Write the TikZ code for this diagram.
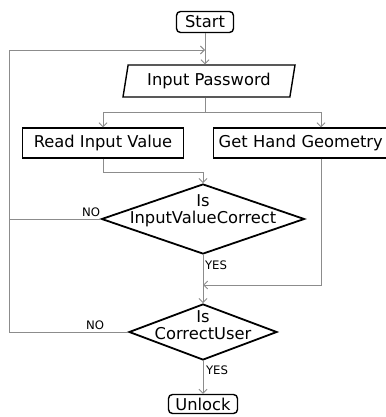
\documentclass[tikz,border=0pt]{standalone}
\usepackage{fontspec}
\setmainfont{DejaVu Sans}
\usetikzlibrary{shapes.geometric,arrows.meta}
\definecolor{wire}{RGB}{140,140,140}
\begin{document}
\begin{tikzpicture}[x=1pt,y=-1pt,
  font=\fontsize{16.3}{16.8}\selectfont,
  box/.style={draw=black,line width=1.4pt,rectangle,inner sep=0pt},
  term/.style={box,rounded corners=4pt},
  dec/.style={draw=black,line width=1.8pt,diamond,inner sep=0pt},
  dtext/.style={align=center,inner sep=0pt},
  io/.style={draw=black,line width=1.4pt,trapezium,trapezium left angle=72,
    trapezium right angle=108,trapezium stretches body,inner sep=0pt},
  wire/.style={draw=wire,line width=0.9pt},
  flow/.style={wire,-{Straight Barb[length=4pt,width=8pt]}},
  tag/.style={font=\fontsize{11.7}{12}\selectfont,inner sep=0pt}]

\useasboundingbox (0,0) rectangle (385,417);

% process steps
\node[term,minimum width=57,minimum height=21] (start) at (205,22) {Start};
\node[io,minimum width=172,minimum height=32] (input) at (209,81) {Input Password};
\node[box,minimum width=161,minimum height=30] (read) at (103,143) {Read Input Value};
\node[box,anchor=west,minimum height=30,text width=180,inner xsep=5,align=left]
  (geo) at (213,143) {Get Hand Geometry};
\node[dec,minimum width=203,minimum height=70] (d1) at (203,219) {};
\node[dtext] (d1t) at (203,211) {Is\\InputValueCorrect};
\node[dec,minimum width=148,minimum height=56] (d2) at (203,332) {};
\node[dtext] (d2t) at (203,325) {Is\\CorrectUser};
\node[term,minimum width=69,minimum height=19] (unlock) at (203,404) {Unlock};

% branch labels
\node[tag] (no1) at (91,212) {NO};
\node[tag] (no2) at (95,325) {NO};
\node[tag] (yes1) at (216,265) {YES};
\node[tag] (yes2) at (217,370) {YES};

% bend points
\coordinate (top) at (205,50);
\coordinate (lt) at (9,50);
\coordinate (lb) at (9,332);
\coordinate (split) at (205,112);
\coordinate (sl) at (103,112);
\coordinate (sr) at (321,112);
\coordinate (rb) at (103,172);
\coordinate (rj) at (203,172);
\coordinate (gb) at (321,285);
\coordinate (gj) at (203,285);

% connectors
\draw[flow] (start.south) -- (start.south |- input.north);
\draw[flow] (d2.west) -- (lb) -- (lt) -- (top);
\draw[wire] (d1.west) -- (d1.west -| lt);
\draw[wire] (split |- input.south) -- (split);
\draw[flow] (split) -- (sl) -- (read.north);
\draw[flow] (split) -- (sr) -- (sr |- geo.north);
\draw[flow] (read.south) -- (rb) -- (rj) -- (d1.north);
\draw[flow] (gb |- geo.south) -- (gb) -- (gj);
\draw[flow] (d1.south) -- (d2.north);
\draw[flow] (d2.south) -- (unlock.north);
\end{tikzpicture}
\end{document}
